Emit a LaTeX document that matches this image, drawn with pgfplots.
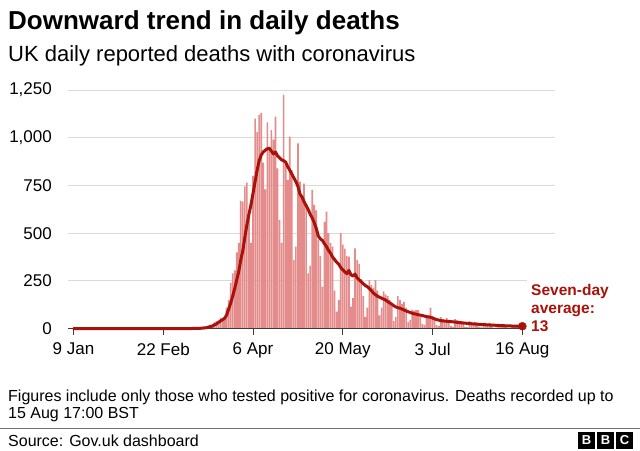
\documentclass[border=0pt]{standalone}
\usepackage{pgfplots}
\pgfplotsset{compat=1.18}
\usepackage{pgfplotstable}
\usepackage{fontspec}
\setmainfont{Liberation Sans}
\definecolor{bbcred}{RGB}{168,18,8}
\definecolor{barred}{RGB}{228,140,140}
\definecolor{gridgray}{RGB}{218,218,218}
\definecolor{axisgray}{RGB}{60,60,60}

\pgfplotstableread{
d v
56 1
57 1
58 0
59 1
60 2
61 1
62 2
63 2
64 5
65 10
66 14
67 20
68 16
69 33
70 40
71 33
72 56
73 48
74 54
75 110
76 150
77 240
78 290
79 305
80 400
81 450
82 670
83 665
84 745
85 765
86 610
87 450
88 800
89 1100
90 1030
91 1120
92 1130
93 870
94 730
95 1080
96 950
97 1040
98 990
99 1110
100 840
101 570
102 450
103 1224
104 860
105 780
106 1006
107 830
108 360
109 430
110 971
111 770
112 690
113 760
114 640
115 290
116 330
117 727
118 648
119 620
120 465
121 380
122 220
123 560
124 613
125 500
126 450
127 430
128 200
129 90
130 150
131 500
132 440
133 420
134 380
135 377
136 115
137 160
138 421
139 360
140 340
141 260
142 170
143 60
144 110
145 255
146 230
147 215
148 255
149 200
150 70
151 110
152 195
153 180
154 170
155 150
156 120
157 40
158 60
159 170
160 150
161 130
162 140
163 110
164 35
165 45
166 100
167 95
168 98
169 97
170 60
171 25
172 20
173 70
174 60
175 110
176 65
177 50
178 20
179 15
180 60
181 50
182 45
183 55
184 40
185 15
186 10
187 50
188 45
189 35
190 40
191 30
192 10
193 8
194 40
195 30
196 25
197 35
198 25
199 8
200 7
201 30
202 25
203 20
204 30
205 20
206 5
207 6
208 25
209 20
210 15
211 20
212 15
213 4
214 5
215 20
216 18
217 15
218 12
219 10
220 5
}\deaths

\pgfplotstableread{
d a
0 0
55 0
58 1
62 2
65 5
68 14
70 25
72 40
74 54
75 70
77 133
78 170
79 210
80 255
81 300
82 360
83 410
84 480
85 545
86 600
87 650
88 710
89 770
90 830
91 880
92 910
93 925
94 935
95 942
96 945
97 930
98 915
99 925
100 905
101 895
102 884
103 880
104 872
105 848
106 830
107 810
108 790
109 770
110 745
111 705
112 690
113 665
114 645
115 625
116 600
117 580
118 555
119 525
120 485
121 470
122 462
123 445
124 430
125 410
126 395
127 375
128 362
129 348
130 338
131 320
132 308
133 298
134 288
135 305
136 282
137 276
138 286
139 266
140 256
141 246
142 236
143 226
144 220
145 210
146 200
147 186
148 178
149 170
150 165
151 160
152 155
153 150
154 142
155 135
156 128
157 120
158 114
159 110
160 107
161 103
162 98
163 93
164 89
165 85
166 81
167 78
168 76
169 73
170 71
171 69
172 66
173 63
174 62
175 60
176 56
177 51
178 48
179 45
180 42
183 39
186 36
190 31
195 26
200 22
205 19
210 16
215 14
220 13
}\avg

\begin{document}
\begin{tikzpicture}
\path[use as bounding box, fill=white] (0pt,0pt) rectangle (640pt,-450pt);

\node[anchor=base west, inner sep=0pt, font=\bfseries\fontsize{26}{30}\selectfont] at (8pt,-29pt) {Downward trend in daily deaths};
\node[anchor=base west, inner sep=0pt, font=\fontsize{22}{26}\selectfont] at (8pt,-61pt) {UK daily reported deaths with coronavirus};

\begin{axis}[
  at={(68pt,-328.7pt)}, anchor=south west,
  scale only axis, width=487pt, height=238.7pt,
  xmin=-2.7, xmax=236, ymin=0, ymax=1250,
  axis line style={draw=none},
  clip=false,
  xtick={0,44,88,132,176,220},
  xticklabels={9 Jan,22 Feb,6 Apr,20 May,3 Jul,16 Aug},
  ytick={0,250,500,750,1000,1250},
  yticklabels={0,250,500,750,{1,000},{1,250}},
  xtick pos=bottom, ytick pos=left,
  tick align=outside,
  major tick length=6pt,
  xtick style={draw=axisgray, line width=1pt},
  ytick style={draw=none},
  ymajorgrids, grid style={gridgray, line width=1pt},
  xticklabel style={anchor=north, inner sep=0pt, yshift=-8pt, font=\fontsize{17}{20}\selectfont},
  yticklabel style={anchor=east, inner sep=0pt, xshift=-10pt, font=\fontsize{17}{20}\selectfont},
  /pgf/number format/assume math mode=true,
]
\addplot[ybar, bar width=0.8, fill=barred, draw=none] table[x=d,y=v]{\deaths};
\draw[axisgray, line width=1.3pt] (axis cs:-2.7,0) -- (axis cs:220.5,0);
\addplot[bbcred, line width=3pt, line join=round, line cap=round] table[x=d,y=a]{\avg};
\addplot[only marks, mark=*, mark size=4pt, bbcred] coordinates {(220,13)};
\end{axis}

\fill[white] (527pt,-279pt) rectangle (600pt,-336pt);
\node[anchor=base west, inner sep=0pt, text=bbcred, font=\bfseries\fontsize{15.5}{18}\selectfont] at (531pt,-295pt) {Seven-day};
\node[anchor=base west, inner sep=0pt, text=bbcred, font=\bfseries\fontsize{15.5}{18}\selectfont] at (531pt,-313.3pt) {average:};
\node[anchor=base west, inner sep=0pt, text=bbcred, font=\bfseries\fontsize{15.5}{18}\selectfont] at (531pt,-331.7pt) {13};

\node[anchor=base west, inner sep=0pt, font=\fontsize{16}{19}\selectfont] at (8pt,-401pt) {Figures include only those who tested positive for coronavirus. Deaths recorded up to};
\node[anchor=base west, inner sep=0pt, font=\fontsize{16}{19}\selectfont] at (8pt,-418pt) {15 Aug 17:00 BST};

\draw[black!55, line width=1pt] (0pt,-428pt) -- (640pt,-428pt);
\node[anchor=base west, inner sep=0pt, font=\fontsize{16}{19}\selectfont] at (8pt,-446pt) {Source: Gov.uk dashboard};

\foreach \xx/\ll in {578/B,597/B,616/C}{
  \fill[black] (\xx pt,-432pt) rectangle ++(17pt,-17pt);
  \node[text=white, inner sep=0pt, font=\bfseries\fontsize{13}{13}\selectfont] at (\xx pt+8.5pt,-440.5pt) {\ll};
}
\end{tikzpicture}
\end{document}
